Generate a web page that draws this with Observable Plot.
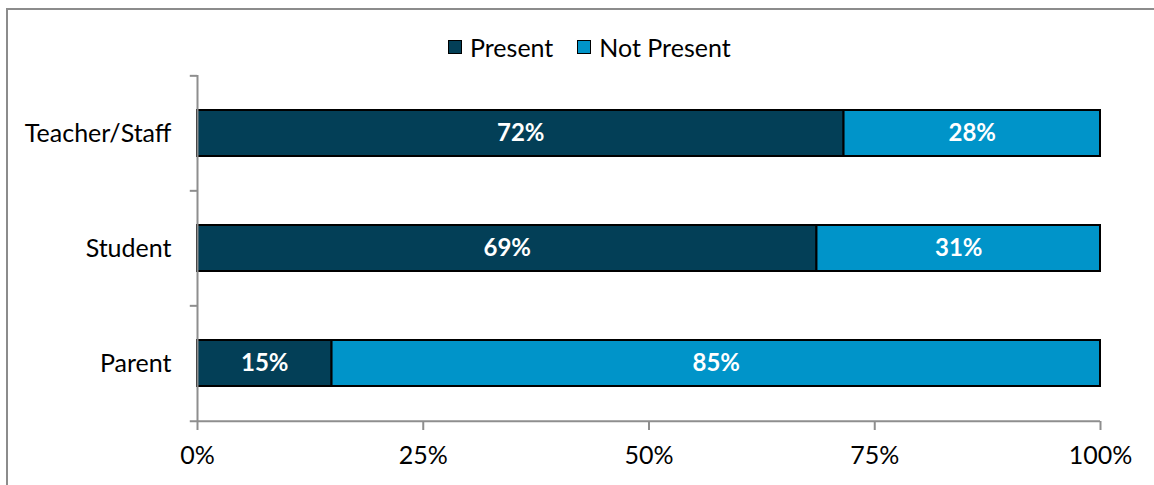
<!DOCTYPE html>
<html><head><meta charset="utf-8">
<script src="https://cdn.jsdelivr.net/npm/d3@7"></script>
<script src="https://cdn.jsdelivr.net/npm/@observablehq/plot@0.6"></script>
<style>
body{margin:0;overflow:hidden;background:#fff;font-family:Lato,sans-serif;}
#wrap{position:relative;width:1154px;height:485px;overflow:hidden;}
#chart{position:absolute;left:0;top:0;}
#frame{position:absolute;left:6px;top:8px;width:1170px;height:500px;border:2px solid #8c8c8c;box-sizing:border-box;pointer-events:none;}
#legend{position:absolute;left:448px;top:32px;display:flex;align-items:center;font-size:25px;line-height:30px;color:#000;}
.item{display:flex;align-items:center;margin-right:24px;}
.sw{width:14px;height:14px;box-sizing:border-box;border:1px solid #000;margin-right:8px;}
</style>
</head><body>
<div id="wrap"><div id="chart"></div><div id="frame"></div><div id="legend"></div></div>
<script>
const categories = ["Teacher/Staff", "Student", "Parent"];
const seriesNames = ["Present", "Not Present"];
const presentValues = [71.6, 68.6, 14.9];
const notPresentValues = [28.4, 31.4, 85.1];
const xTicks = [0, 25, 50, 75, 100];
const colors = ["#033f57", "#0094c9"];

const data = [];
categories.forEach((c, i) => {
  data.push({cat: c, series: seriesNames[0], value: presentValues[i]});
  data.push({cat: c, series: seriesNames[1], value: notPresentValues[i]});
});

const axisGray = "#8e8e8e";
const step = (485 - 75 - 64) / 3;

const plot = Plot.plot({
  width: 1154, height: 485,
  marginLeft: 197, marginRight: 54, marginTop: 75, marginBottom: 64,
  style: {fontFamily: "Lato, sans-serif", fontSize: "25px", background: "transparent"},
  x: {domain: [0, 100]},
  y: {domain: categories, paddingInner: 0.6, paddingOuter: 0.3},
  color: {domain: seriesNames, range: colors},
  marks: [
    Plot.barX(data, {x: "value", y: "cat", fill: "series", stroke: "#000", strokeWidth: 2}),
    Plot.text(data, Plot.stackX({x: "value", y: "cat", z: "series", text: d => Math.round(d.value) + "%", fill: "white", fontWeight: "bold", fontSize: 24})),
    Plot.ruleX([0], {stroke: axisGray, strokeWidth: 2}),
    Plot.ruleY(categories, {y: d => d, x1: -0.8, x2: 0, dy: -step / 2, stroke: axisGray, strokeWidth: 2, clip: false}),
    Plot.ruleY([categories[categories.length - 1]], {y: d => d, x1: -0.8, x2: 100, dy: step / 2, stroke: axisGray, strokeWidth: 2}),
    Plot.axisX({ticks: xTicks, tickFormat: d => d + "%", tickSize: 9, tickPadding: 16, stroke: axisGray, strokeWidth: 2, fill: "#000", label: null}),
    Plot.axisY({tickSize: 0, tickPadding: 26, fill: "#000", label: null})
  ]
});
document.getElementById("chart").appendChild(plot);

const lg = document.getElementById("legend");
seriesNames.forEach((s, i) => {
  const it = document.createElement("div");
  it.className = "item";
  const sw = document.createElement("div");
  sw.className = "sw";
  sw.style.background = colors[i];
  const t = document.createElement("span");
  t.textContent = s;
  it.appendChild(sw); it.appendChild(t);
  lg.appendChild(it);
});
</script>
</body></html>
